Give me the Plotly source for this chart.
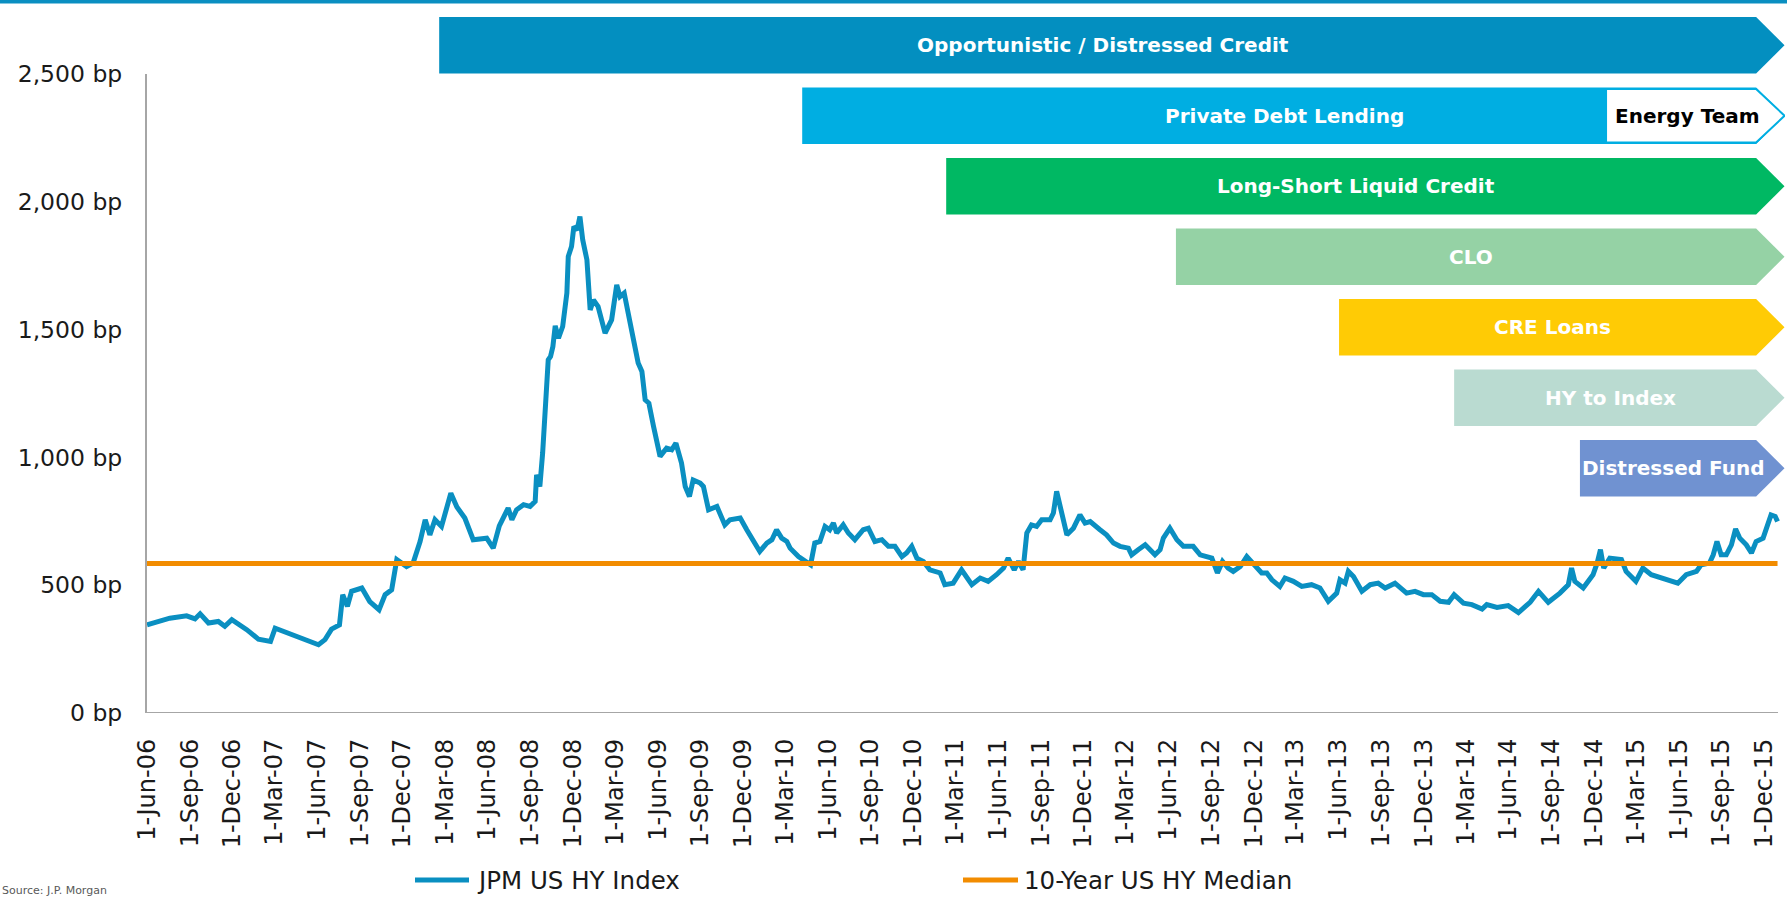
import pandas as pd
import plotly.graph_objects as go

# ---------------- data ----------------
HY_DATES = [
    "2006-06-01", "2006-06-29", "2006-07-20", "2006-08-25", "2006-09-12", "2006-09-23", "2006-10-11",
    "2006-11-01", "2006-11-15", "2006-11-30", "2007-01-01", "2007-01-26", "2007-02-21", "2007-03-03",
    "2007-03-28", "2007-05-02", "2007-06-04", "2007-06-18", "2007-07-02", "2007-07-19", "2007-07-26",
    "2007-08-05", "2007-08-14", "2007-09-05", "2007-09-22", "2007-10-12", "2007-10-25", "2007-11-08",
    "2007-11-19", "2007-12-10", "2007-12-24", "2008-01-08", "2008-01-19", "2008-01-29", "2008-02-09",
    "2008-02-23", "2008-03-14", "2008-03-27", "2008-04-13", "2008-05-01", "2008-05-30", "2008-06-13",
    "2008-06-26", "2008-07-15", "2008-07-23", "2008-08-02", "2008-08-17", "2008-08-31", "2008-09-11",
    "2008-09-14", "2008-09-21", "2008-09-27", "2008-10-02", "2008-10-09", "2008-10-14", "2008-10-19",
    "2008-10-24", "2008-10-31", "2008-11-09", "2008-11-18", "2008-11-21", "2008-11-28", "2008-12-03",
    "2008-12-10", "2008-12-16", "2008-12-22", "2008-12-31", "2009-01-07", "2009-01-14", "2009-01-24",
    "2009-02-08", "2009-02-22", "2009-03-05", "2009-03-12", "2009-03-21", "2009-03-30", "2009-04-10",
    "2009-04-20", "2009-04-28", "2009-05-05", "2009-05-13", "2009-05-23", "2009-06-06", "2009-06-20",
    "2009-07-01", "2009-07-10", "2009-07-22", "2009-07-30", "2009-08-08", "2009-08-16", "2009-08-31",
    "2009-09-07", "2009-09-18", "2009-10-06", "2009-10-23", "2009-11-03", "2009-11-25", "2009-12-09",
    "2009-12-23", "2010-01-06", "2010-01-21", "2010-02-01", "2010-02-11", "2010-02-22", "2010-03-05",
    "2010-03-12", "2010-03-30", "2010-04-17", "2010-04-25", "2010-05-04", "2010-05-15", "2010-05-26",
    "2010-06-05", "2010-06-13", "2010-06-20", "2010-07-04", "2010-07-15", "2010-07-29", "2010-08-16",
    "2010-08-27", "2010-09-10", "2010-09-25", "2010-10-09", "2010-10-23", "2010-11-07", "2010-11-17",
    "2010-11-28", "2010-12-09", "2010-12-23", "2011-01-06", "2011-01-28", "2011-02-07", "2011-02-25",
    "2011-03-15", "2011-04-06", "2011-04-24", "2011-05-11", "2011-05-29", "2011-06-13", "2011-06-23",
    "2011-07-06", "2011-07-15", "2011-07-25", "2011-08-02", "2011-08-12", "2011-08-23", "2011-09-03",
    "2011-09-21", "2011-09-28", "2011-10-05", "2011-10-14", "2011-10-27", "2011-11-10", "2011-11-24",
    "2011-12-05", "2011-12-16", "2012-01-06", "2012-01-20", "2012-02-04", "2012-02-18", "2012-03-07",
    "2012-03-14", "2012-03-28", "2012-04-12", "2012-05-03", "2012-05-14", "2012-05-21", "2012-06-04",
    "2012-06-19", "2012-07-03", "2012-07-24", "2012-08-08", "2012-09-02", "2012-09-14", "2012-09-25",
    "2012-10-07", "2012-10-18", "2012-11-02", "2012-11-16", "2012-12-04", "2012-12-18", "2012-12-29",
    "2013-01-09", "2013-01-26", "2013-02-06", "2013-02-24", "2013-03-14", "2013-04-04", "2013-04-22",
    "2013-05-10", "2013-05-28", "2013-06-04", "2013-06-15", "2013-06-22", "2013-07-03", "2013-07-21",
    "2013-08-08", "2013-08-25", "2013-09-09", "2013-09-30", "2013-10-25", "2013-11-12", "2013-11-30",
    "2013-12-18", "2014-01-05", "2014-01-23", "2014-02-04", "2014-02-24", "2014-03-14", "2014-04-05",
    "2014-04-15", "2014-05-07", "2014-05-31", "2014-06-22", "2014-07-17", "2014-08-04", "2014-08-25",
    "2014-09-19", "2014-10-07", "2014-10-14", "2014-10-21", "2014-11-08", "2014-11-29", "2014-12-08",
    "2014-12-15", "2014-12-22", "2015-01-04", "2015-01-29", "2015-02-08", "2015-03-01", "2015-03-16",
    "2015-04-03", "2015-04-28", "2015-05-30", "2015-06-17", "2015-07-09", "2015-07-19", "2015-08-06",
    "2015-08-14", "2015-08-22", "2015-08-31", "2015-09-11", "2015-09-22", "2015-10-01", "2015-10-10",
    "2015-10-24", "2015-11-04", "2015-11-14", "2015-11-29", "2015-12-16", "2015-12-25", "2015-12-30",
]
HY_SPREAD_BP = [
    345, 358, 371, 380, 368, 388, 352,
    358, 339, 365, 326, 289, 280, 332,
    315, 293, 267, 287, 328, 345, 463,
    417, 476, 489, 436, 404, 463, 482,
    600, 573, 587, 671, 756, 697, 756,
    730, 860, 806, 763, 678, 684, 645,
    732, 802, 756, 795, 815, 808, 828,
    932, 886, 1017, 1186, 1382, 1395, 1434,
    1515, 1467, 1512, 1643, 1786, 1825, 1903,
    1890, 1942, 1851, 1773, 1577, 1616, 1590,
    1486, 1538, 1675, 1629, 1643, 1551, 1460,
    1369, 1336, 1225, 1212, 1121, 1004, 1036,
    1030, 1056, 978, 886, 847, 912, 900,
    886, 795, 808, 736, 756, 763, 717,
    678, 632, 665, 678, 717, 684, 671,
    645, 612, 593, 580, 665, 671, 730,
    717, 743, 704, 736, 704, 678, 717,
    723, 671, 678, 652, 652, 612, 626,
    652, 606, 593, 560, 548, 502, 508,
    560, 502, 528, 515, 541, 567, 606,
    560, 593, 560, 704, 736, 730, 756,
    756, 782, 867, 795, 697, 723, 775,
    743, 749, 717, 697, 665, 652, 645,
    619, 639, 658, 619, 639, 684, 723,
    678, 652, 652, 619, 606, 548, 593,
    567, 554, 573, 612, 573, 548, 548,
    521, 495, 528, 515, 495, 502, 489,
    437, 469, 521, 508, 554, 534, 476,
    502, 508, 489, 508, 469, 476, 463,
    463, 437, 433, 463, 430, 424, 407,
    424, 413, 420, 393, 433, 476, 433,
    469, 502, 567, 515, 489, 541, 587,
    639, 567, 606, 600, 554, 515, 567,
    541, 528, 508, 541, 554, 580, 587,
    619, 671, 619, 619, 658, 720, 684,
    658, 626, 671, 684, 775, 769, 749,
]
MEDIAN_BP = 585
SERIES_NAMES = ["JPM US HY Index", "10-Year US HY Median"]

X_TICK_LABELS = [
    "1-Jun-06", "1-Sep-06", "1-Dec-06", "1-Mar-07", "1-Jun-07", "1-Sep-07", "1-Dec-07",
    "1-Mar-08", "1-Jun-08", "1-Sep-08", "1-Dec-08", "1-Mar-09", "1-Jun-09", "1-Sep-09",
    "1-Dec-09", "1-Mar-10", "1-Jun-10", "1-Sep-10", "1-Dec-10", "1-Mar-11", "1-Jun-11",
    "1-Sep-11", "1-Dec-11", "1-Mar-12", "1-Jun-12", "1-Sep-12", "1-Dec-12", "1-Mar-13",
    "1-Jun-13", "1-Sep-13", "1-Dec-13", "1-Mar-14", "1-Jun-14", "1-Sep-14", "1-Dec-14",
    "1-Mar-15", "1-Jun-15", "1-Sep-15", "1-Dec-15",
]
Y_TICK_VALUES = [0, 500, 1000, 1500, 2000, 2500]

STRATEGIES = [
    "Opportunistic / Distressed Credit",
    "Private Debt Lending",
    "Long-Short Liquid Credit",
    "CLO",
    "CRE Loans",
    "HY to Index",
    "Distressed Fund",
]
STRATEGY_STARTS = [
    "2008-02-18", "2010-04-07", "2011-02-10", "2012-06-17",
    "2013-06-02", "2014-02-04", "2014-11-01",
]
SUB_STRATEGY = "Energy Team"
SUB_STRATEGY_START = "2014-12-27"
SOURCE_TEXT = "Source: J.P. Morgan"

# ---------------- styles / layout ----------------
FONT = "DejaVu Sans"
TEXT_COLOR = "#1a1a1a"
AXIS_COLOR = "#A6A6A6"
HY_COLOR = "#0A8FC1"
MEDIAN_COLOR = "#F28C00"
STRATEGY_COLORS = ["#038FC0", "#00AEE2", "#00B863", "#95D2A5", "#FFCB05", "#BADBD1", "#7092D1"]
LABEL_COLORS = ["white"] * 7
SUB_COLOR = "#00AEE2"

W, H = 1787, 899
M_L, M_R, M_T, M_B = 147, 2, 74, 186
PLOT_W = W - M_L - M_R
PLOT_H = H - M_T - M_B
X_RANGE = ["2006-06-01", "2016-01-15"]
AXIS_END = "2015-12-31"
BODY_END = "2015-11-14"
TIP_DATE = "2016-01-14"
ROW_TOP0, ROW_STEP, ROW_H = 17.0, 70.5, 56.5


def py(p):
    """pixel row (from top of figure) -> paper y"""
    return (H - M_B - p) / PLOT_H


def px(p):
    """pixel column -> paper x"""
    return (p - M_L) / PLOT_W


def mid_date(a, b):
    ta, tb = pd.Timestamp(a), pd.Timestamp(b)
    return (ta + (tb - ta) / 2).strftime("%Y-%m-%d %H:%M")


fig = go.Figure()
fig.add_trace(go.Scatter(
    x=HY_DATES, y=HY_SPREAD_BP, mode="lines", name=SERIES_NAMES[0],
    line=dict(color=HY_COLOR, width=5), showlegend=False, hoverinfo="x+y",
))
fig.add_trace(go.Scatter(
    x=[HY_DATES[0], HY_DATES[-1]], y=[MEDIAN_BP, MEDIAN_BP], mode="lines", name=SERIES_NAMES[1],
    line=dict(color=MEDIAN_COLOR, width=5), showlegend=False,
))

shapes = []
annotations = []

# top rule
shapes.append(dict(type="rect", xref="paper", yref="paper", x0=px(0), x1=px(W), y0=py(3.5), y1=py(0),
                   fillcolor="#0A8FC1", line=dict(width=0), layer="above"))

# x axis baseline
shapes.append(dict(type="line", xref="x", yref="y", x0=X_RANGE[0], x1=AXIS_END, y0=0, y1=0,
                   line=dict(color=AXIS_COLOR, width=2), layer="below"))


def arrow_path(start, top, bottom):
    mid = (top + bottom) / 2
    return (f"M {start},{py(top)} L {BODY_END},{py(top)} L {TIP_DATE},{py(mid)} "
            f"L {BODY_END},{py(bottom)} L {start},{py(bottom)} Z")


for i, (name, start, color) in enumerate(zip(STRATEGIES, STRATEGY_STARTS, STRATEGY_COLORS)):
    top = ROW_TOP0 + i * ROW_STEP
    bottom = top + ROW_H
    shapes.append(dict(type="path", xref="x", yref="paper", path=arrow_path(start, top, bottom),
                       fillcolor=color, line=dict(width=0), layer="above"))
    annotations.append(dict(
        xref="x", yref="paper", x=mid_date(start, BODY_END), y=py((top + bottom) / 2), xshift=5,
        text=f"<b>{name}</b>", showarrow=False, xanchor="center", yanchor="middle",
        font=dict(family=FONT, size=20, color=LABEL_COLORS[i]),
    ))
    if i == 1:
        shapes.append(dict(type="path", xref="x", yref="paper",
                           path=arrow_path(SUB_STRATEGY_START, top + 1.5, bottom - 1.5),
                           fillcolor="white", line=dict(color=SUB_COLOR, width=2), layer="above"))
        annotations.append(dict(
            xref="x", yref="paper", x=mid_date(SUB_STRATEGY_START, BODY_END), y=py((top + bottom) / 2),
            xshift=6, text=f"<b>{SUB_STRATEGY}</b>", showarrow=False, xanchor="center",
            yanchor="middle", font=dict(family=FONT, size=20, color="black"),
        ))

# manual legend
LEGEND_Y = 880
for (x0, x1, tx), color, name in zip([(415, 469, 475), (963, 1018, 1022)],
                                     [HY_COLOR, MEDIAN_COLOR], SERIES_NAMES):
    shapes.append(dict(type="line", xref="paper", yref="paper", x0=px(x0), x1=px(x1),
                       y0=py(LEGEND_Y), y1=py(LEGEND_Y), line=dict(color=color, width=5)))
    annotations.append(dict(xref="paper", yref="paper", x=px(tx), y=py(LEGEND_Y), text=name,
                            showarrow=False, xanchor="left", yanchor="middle",
                            font=dict(family=FONT, size=24.5, color=TEXT_COLOR)))

# source note, bottom-left corner
annotations.append(dict(xref="paper", yref="paper", x=px(0), y=py(H), text=SOURCE_TEXT,
                        showarrow=False, xanchor="left", yanchor="bottom",
                        font=dict(family=FONT, size=11, color="#595959")))

tick_dates = pd.to_datetime(X_TICK_LABELS, format="%d-%b-%y")

fig.update_layout(
    width=W, height=H,
    margin=dict(l=M_L, r=M_R, t=M_T, b=M_B, autoexpand=False),
    paper_bgcolor="white", plot_bgcolor="white",
    showlegend=False,
    shapes=shapes, annotations=annotations,
    font=dict(family=FONT, color=TEXT_COLOR),
    xaxis=dict(
        type="date", range=X_RANGE, tickmode="array", tickvals=tick_dates, ticktext=X_TICK_LABELS,
        tickangle=-90, tickfont=dict(family=FONT, size=24, color=TEXT_COLOR),
        showgrid=False, zeroline=False, showline=False, ticks="", ticklabelstandoff=20,
    ),
    yaxis=dict(
        range=[0, 2500], tickmode="array", tickvals=Y_TICK_VALUES,
        ticktext=[f"{v:,} bp" for v in Y_TICK_VALUES],
        tickfont=dict(family=FONT, size=23.5, color=TEXT_COLOR),
        showgrid=False, zeroline=False, showline=True, linecolor=AXIS_COLOR, linewidth=2,
        ticks="", ticklabelstandoff=18,
    ),
)

# remove the browser's default 8px page margin so the figure sits at the window's top-left
fig.write_html("out.html", config={"displayModeBar": False},
               post_script="document.body.style.margin='0px';")
